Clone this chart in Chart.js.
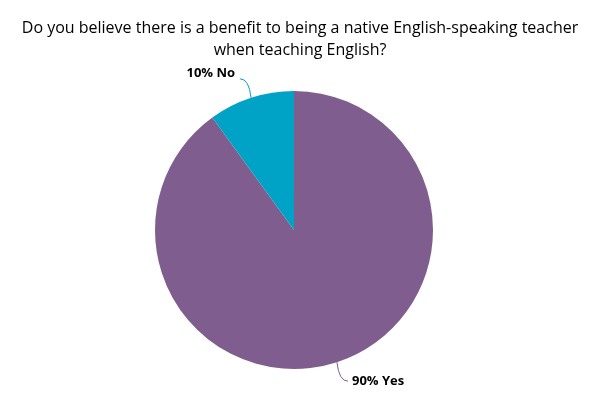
<!DOCTYPE html>
<html><head><meta charset="utf-8">
<script src="https://cdn.jsdelivr.net/npm/chart.js@4"></script>
<style>html,body{margin:0;padding:0;background:#fff}#wrap{width:600px;height:400px}</style>
</head><body><div id="wrap"><canvas id="c" width="600" height="400"></canvas></div>
<script>
const titleLines = ["Do you believe there is a benefit to being a native English-speaking teacher", "when teaching English?"];
const categories = ["Yes", "No"];
const values = [90, 10];
const colors = ["#7f5e8f", "#00a3c6"];

const labelPlugin = {
  id: 'labels',
  afterDraw(chart) {
    const ctx = chart.ctx;
    ctx.save();
    ctx.fillStyle = '#000';
    ctx.font = '16px "Open Sans"';
    ctx.textAlign = 'center';
    ctx.textBaseline = 'middle';
    titleLines.forEach((t, i) => ctx.fillText(t, 300, 28 + i * 22));
    const meta = chart.getDatasetMeta(0);
    meta.data.forEach((arc, i) => {
      const mid = (arc.startAngle + arc.endAngle) / 2;
      const ex = arc.x + Math.cos(mid) * arc.outerRadius;
      const ey = arc.y + Math.sin(mid) * arc.outerRadius;
      const right = Math.cos(mid) >= 0;
      const down = Math.sin(mid) >= 0;
      const sx = right ? 1 : -1, sy = down ? 1 : -1;
      const tx = ex + sx * 11, ty = ey + sy * 19;
      ctx.strokeStyle = colors[i];
      ctx.lineWidth = 1;
      ctx.beginPath();
      ctx.moveTo(ex, ey);
      ctx.quadraticCurveTo(ex + sx * 2, ty, tx, ty);
      ctx.stroke();
      ctx.font = 'bold 13px "Open Sans"';
      ctx.fillStyle = '#000';
      ctx.textAlign = right ? 'left' : 'right';
      const txt = values[i] + '% ' + categories[i];
      if (right) ctx.fillText(txt, tx + 4, ty);
      else ctx.fillText(txt, tx - 5, ty - 6);
    });
    ctx.restore();
  }
};

new Chart(document.getElementById('c'), {
  type: 'pie',
  data: { labels: categories, datasets: [{ data: values, backgroundColor: colors, borderWidth: 0 }] },
  options: {
    responsive: false, animation: false,
    layout: { padding: { top: 91, bottom: 31, left: 155, right: 167 } },
    plugins: { legend: { display: false }, tooltip: { enabled: false }, title: { display: false } }
  },
  plugins: [labelPlugin]
});
</script></body></html>
